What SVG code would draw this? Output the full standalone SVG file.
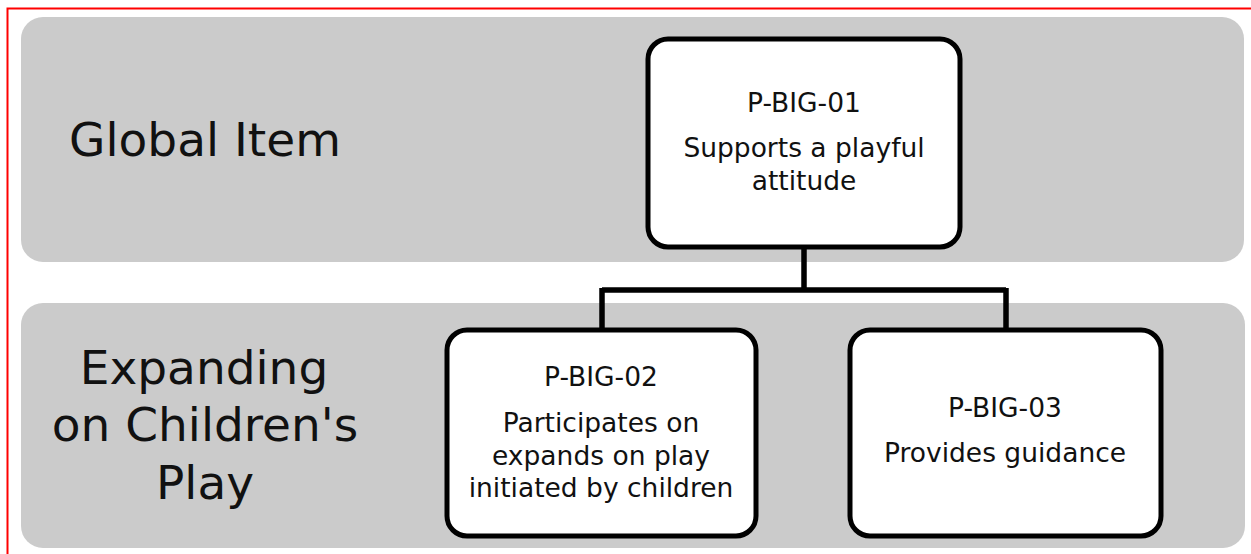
<svg xmlns="http://www.w3.org/2000/svg" width="1251" height="554" viewBox="0 0 1251 554">
<style>
.band{fill:#cbcbcb}
.box{fill:#ffffff;stroke:#000;stroke-width:5}
.lbl{font-family:"DejaVu Sans",sans-serif;fill:#111;text-anchor:middle}
.big{font-size:47px}
.t{font-size:26.5px}
.conn{fill:none;stroke:#000;stroke-width:5.5;stroke-linejoin:miter}
</style>
<rect width="1251" height="554" fill="#fff"/>
<rect x="7.5" y="8.5" width="1260" height="570" fill="none" stroke="#ff0000" stroke-width="2"/>
<g id="band-global">
<rect class="band" x="21" y="17" width="1223" height="245" rx="22"/>
<text class="lbl big" x="205" y="156" font-size="48">Global Item</text>
</g>
<g id="band-expanding">
<rect class="band" x="21" y="303" width="1224" height="245" rx="22"/>
<text class="lbl big" x="204" y="384">Expanding</text>
<text class="lbl big" x="205" y="441">on Children's</text>
<text class="lbl big" x="205" y="499">Play</text>
</g>
<g id="connectors">
<path class="conn" d="M804 249 V290 M602 290 H1006 M602 288 V328 M1006 288 V328"/>
</g>
<g id="node-p-big-01">
<rect class="box" x="648" y="39" width="312" height="208" rx="20"/>
<text class="lbl t" x="804" y="112">P-BIG-01</text>
<text class="lbl t" x="804" y="157">Supports a playful</text>
<text class="lbl t" x="804" y="190">attitude</text>
</g>
<g id="node-p-big-02">
<rect class="box" x="447" y="330" width="309" height="206" rx="20"/>
<text class="lbl t" x="601" y="386">P-BIG-02</text>
<text class="lbl t" x="601" y="432">Participates on</text>
<text class="lbl t" x="601" y="465">expands on play</text>
<text class="lbl t" x="601" y="497">initiated by children</text>
</g>
<g id="node-p-big-03">
<rect class="box" x="850" y="330" width="311" height="206" rx="20"/>
<text class="lbl t" x="1005" y="417">P-BIG-03</text>
<text class="lbl t" x="1005" y="462">Provides guidance</text>
</g>
</svg>
